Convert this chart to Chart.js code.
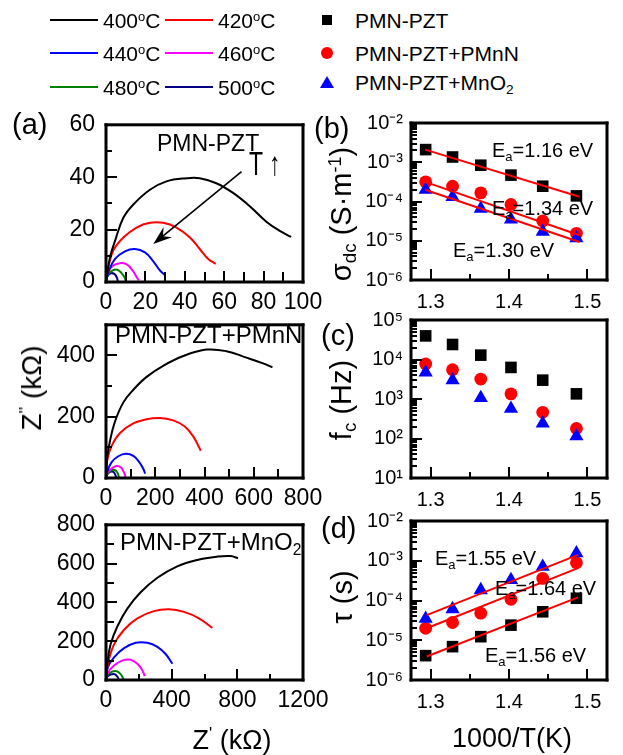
<!DOCTYPE html>
<html>
<head>
<meta charset="utf-8">
<title>Impedance spectra and Arrhenius plots</title>
<script src="https://cdn.jsdelivr.net/npm/chart.js@4.4.1/dist/chart.umd.min.js"></script>
<style>
  html, body { margin: 0; background: #fff; }
  #fig { position: relative; width: 623px; height: 755px; overflow: hidden;
         font-family: Arial, 'Liberation Sans', Helvetica, sans-serif; color: #000; }
  #fig canvas { position: absolute; }
  .t { position: absolute; white-space: nowrap; line-height: 1; }
  .t sub { font-size: 65%; vertical-align: -0.3em; line-height: 0; }
  .t sup { font-size: 62%; vertical-align: 0.55em; line-height: 0; }
  .rot { transform: translate(-50%, -50%) rotate(-90deg); }
  .ctr { transform: translate(-50%, -50%); }
  .swatch { position: absolute; height: 2px; width: 48px; }
  .mk { position: absolute; }
</style>
</head>
<body>
<div id="fig">
  <canvas id="a1"></canvas>
  <canvas id="a2"></canvas>
  <canvas id="a3"></canvas>
  <canvas id="b"></canvas>
  <canvas id="c"></canvas>
  <canvas id="d"></canvas>

  <!-- sample legend (markers) -->
  <div class="mk" style="left:322px;top:15px;width:10px;height:10px;background:#000"></div>
  <div class="mk" style="left:321px;top:47px;width:12px;height:12px;border-radius:50%;background:#f00"></div>
  <div class="mk" style="left:320px;top:76px;width:14px;height:12px;background:#00f;clip-path:polygon(50% 0,100% 100%,0 100%)"></div>
  <div class="t" style="left:355px;top:10px;font-size:21px">PMN-PZT</div>
  <div class="t" style="left:355px;top:43px;font-size:21px">PMN-PZT+PMnN</div>
  <div class="t" style="left:355px;top:72px;font-size:21px">PMN-PZT+MnO<sub>2</sub></div>

  <!-- panel labels -->
  <div class="t" style="left:12px;top:110px;font-size:29px">(a)</div>
  <div class="t" style="left:314px;top:114px;font-size:29px">(b)</div>
  <div class="t" style="left:321px;top:321px;font-size:29px">(c)</div>
  <div class="t" style="left:321px;top:514px;font-size:29px">(d)</div>

  <!-- sample names inside (a) -->
  <div class="t" style="left:157px;top:132px;font-size:23px">PMN-PZT</div>
  <div class="t" style="left:249px;top:147px;font-size:23px;transform:scaleY(1.45);transform-origin:0 0">T ↑</div>
  <div class="t" style="left:115px;top:323px;font-size:24px">PMN-PZT+PMnN</div>
  <div class="t" style="left:120px;top:530px;font-size:24px">PMN-PZT+MnO<sub>2</sub></div>

  <!-- activation energies -->
  <div class="t" style="left:492px;top:140px;font-size:20px">E<sub>a</sub>=1.16 eV</div>
  <div class="t" style="left:492px;top:198px;font-size:20px">E<sub>a</sub>=1.34 eV</div>
  <div class="t" style="left:453px;top:240px;font-size:20px">E<sub>a</sub>=1.30 eV</div>
  <div class="t" style="left:435px;top:548px;font-size:20px">E<sub>a</sub>=1.55 eV</div>
  <div class="t" style="left:495px;top:578px;font-size:20px">E<sub>a</sub>=1.64 eV</div>
  <div class="t" style="left:485px;top:645px;font-size:20px">E<sub>a</sub>=1.56 eV</div>

  <!-- axis titles -->
  <div class="t rot" style="left:32px;top:388px;font-size:28px">Z<sup>''</sup> (kΩ)</div>
  <div class="t rot" style="left:341px;top:214px;font-size:29px">σ<sub>dc</sub> (S·m<sup>-1</sup>)</div>
  <div class="t rot" style="left:341px;top:400px;font-size:29px">f<sub>c</sub> (Hz)</div>
  <div class="t rot" style="left:342px;top:597px;font-size:29px">τ (s)</div>
  <div class="t ctr" style="left:232px;top:740px;font-size:27px">Z<sup>'</sup> (kΩ)</div>
  <div class="t ctr" style="left:512px;top:738px;font-size:27px">1000/T(K)</div>
</div>

<script>
// ─── Data ─────────────────────────────────────────────────────────

const temps = ['400', '420', '440', '460', '480', '500'];
const tempColors = ['#000000', '#ff0000', '#0000ff', '#ff00ff', '#008000', '#000080'];

// Nyquist arcs from panel (a), [Z', Z''] in kΩ, one list per temperature (400 → 500 °C)
const nyqPZT = [
  [[0,0],[2,9.4],[4.6,15.7],[8.8,24.5],[13.9,29.6],[22.3,35.2],[30.7,38.4],[40.9,39.6],[47.6,39.6],[56,37.7],[64.5,34],[73,28.9],[81.4,23],[88.2,19.5],[94,17.2]],
  [[0,0],[1.2,5.7],[3.7,12],[8.8,17],[15.5,20.8],[22.3,22.6],[29,22.6],[35.8,20.8],[42.6,17],[47.6,12.6],[51.9,8.8],[55.7,6.9]],
  [[0,0],[1.2,3.8],[4.6,8.8],[9.6,11.7],[14.7,12.6],[19.8,11.3],[24,7.9],[27.4,4.4],[30.2,2.5]],
  [[0,0],[1,3.8],[3.7,6.3],[7.1,7.2],[10.5,6.7],[13.5,4.4],[15.5,1.9],[16.7,0.6]],
  [[0,0],[1,2.8],[3.4,4.4],[5.7,4.7],[7.9,3.4],[9.5,1.6],[10.1,0]],
  [[0,0],[0.7,2.1],[2.4,3.3],[4.2,3.1],[5.4,1.9],[6.1,0]],
];
const nyqPMnN = [
  [[0,0],[5,68],[16,120],[36,183],[70,246],[111,288],[165,330],[232,366],[314,398],[408,419],[489,414],[570,393],[638,374],[676,361]],
  [[0,0],[5,58],[23,105],[57,147],[111,178],[165,192],[219,196],[273,188],[320,168],[354,136],[385,89]],
  [[0,0],[5,21],[23,52],[50,71],[81,79],[111,72],[135,52],[151,31],[159,14]],
  [[0,0],[7,18],[23,31],[43,39],[61,34],[73,18],[80,3]],
  [[0,0],[5,13],[20,24],[36,26],[47,16],[53,2]],
  [[0,0],[4,10],[16,20],[30,20],[38,10],[41,2]],
];
const nyqMnO2 = [
  [[0,0],[8,84],[28,184],[69,276],[130,368],[211,452],[313,527],[434,586],[556,619],[678,636],[759,639],[804,628]],
  [[0,0],[12,84],[49,184],[110,259],[191,318],[292,355],[384,365],[475,351],[566,318],[648,268]],
  [[0,0],[12,67],[49,117],[110,164],[181,192],[252,192],[313,171],[363,134],[404,84]],
  [[0,0],[12,38],[49,75],[99,100],[150,104],[191,84],[221,50],[236,20]],
  [[0,0],[8,25],[35,42],[65,45],[89,30],[104,8],[106,0]],
  [[0,0],[8,17],[28,28],[53,30],[69,17],[79,0]],
];
const arrowTail = [68.8, 42.1];
const arrowTip = [24, 14.5];

// Arrhenius data against 1000/T (K⁻¹)
const invT = [1.2937, 1.328, 1.364, 1.4025, 1.443, 1.486];
const sigmaPZT  = [2.1e-3, 1.36e-3, 8.4e-4, 4.7e-4, 2.45e-4, 1.39e-4];
const sigmaPMnN = [3.16e-4, 2.45e-4, 1.66e-4, 8.4e-5, 3.2e-5, 1.55e-5];
const sigmaMnO2 = [2.0e-4, 1.31e-4, 6.6e-5, 3.5e-5, 1.7e-5, 1.17e-5];
const fcPZT  = [3.96e4, 2.4e4, 1.29e4, 6.3e3, 3.0e3, 1.35e3];
const fcPMnN = [7.7e3, 5.5e3, 3.2e3, 1.35e3, 4.6e2, 1.8e2];
const fcMnO2 = [4.7e3, 3.0e3, 1.07e3, 5.7e2, 2.4e2, 1.15e2];
const tauPZT  = [4.1e-6, 6.9e-6, 1.23e-5, 2.4e-5, 5.2e-5, 1.14e-4];
const tauPMnN = [2.0e-5, 2.8e-5, 4.8e-5, 1.07e-4, 3.6e-4, 8.9e-4];
const tauMnO2 = [3.5e-5, 6.1e-5, 1.83e-4, 3.3e-4, 7.1e-4, 1.55e-3];

// Linear fits (end points)
const sigmaFitX = [1.293, 1.49];
const sigmaFitPZT  = [2.1e-3, 1.32e-4];
const sigmaFitPMnN = [3.16e-4, 1.38e-5];
const sigmaFitMnO2 = [2.0e-4, 9.3e-6];
const tauFitX = [1.295, 1.488];
const tauFitMnO2 = [4.3e-5, 1.4e-3];
const tauFitPMnN = [2.0e-5, 6.5e-4];
const tauFitPZT  = [3.9e-6, 1.2e-4];

// Tick values
const invTTicks = [1.3, 1.4, 1.5];
const invTMinor = [1.35, 1.45];

// ─── Helpers ──────────────────────────────────────────────────────

const FONT = "Arial, 'Liberation Sans', Helvetica, sans-serif";

const range = (a, b, s) => { const r = []; for (let v = a; v <= b + 1e-9; v += s) r.push(v); return r; };
const decades = (lo, hi) => range(lo, hi, 1).map((e) => Math.pow(10, e));
const logMinor = (lo, hi) => {
  const r = [];
  for (let e = lo; e < hi; e++) for (let m = 2; m <= 9; m++) r.push(m * Math.pow(10, e));
  return r;
};
const SUP = { '-': '⁻', 0: '⁰', 1: '¹', 2: '²', 3: '³', 4: '⁴', 5: '⁵', 6: '⁶', 7: '⁷', 8: '⁸', 9: '⁹' };
const pow10Label = (v) => '10' + String(Math.round(Math.log10(v))).split('').map((c) => SUP[c]).join('');

const pts = (list) => list.map(([x, y]) => ({ x, y }));
const zip = (xs, ys) => xs.map((x, i) => ({ x, y: ys[i] }));

// One plugin per chart: inward tick marks, box frame and (optionally) the T arrow
function decorPlugin(xs, ys, arrow) {
  return {
    id: 'decor',
    afterDatasetsDraw(chart) {
      const ctx = chart.ctx;
      const a = chart.chartArea;
      const sx = chart.scales.x, sy = chart.scales.y;
      ctx.save();
      ctx.fillStyle = '#000';

      // tick marks as small filled bars
      const xTick = (v, len) => {
        const p = Math.round(sx.getPixelForValue(v));
        ctx.fillRect(p - 1, a.bottom - len, 2, len);
      };
      const yTick = (v, len) => {
        const p = Math.round(sy.getPixelForValue(v));
        ctx.fillRect(a.left, p - 1, len, 2);
      };
      xs.minor.forEach((v) => xTick(v, xs.minorLen || 6));
      ys.minor.forEach((v) => yTick(v, ys.minorLen || 6));
      xs.major.forEach((v) => xTick(v, 11));
      ys.major.forEach((v) => yTick(v, 11));

      // frame
      const w = 3;
      ctx.fillRect(a.left - 1.5, a.top - 1.5, a.right - a.left + w, w);
      ctx.fillRect(a.left - 1.5, a.bottom - 1.5, a.right - a.left + w, w);
      ctx.fillRect(a.left - 1.5, a.top - 1.5, w, a.bottom - a.top + w);
      ctx.fillRect(a.right - 1.5, a.top - 1.5, w, a.bottom - a.top + w);

      if (arrow) {
        const [from, to] = arrow;
        const x1 = sx.getPixelForValue(from[0]), y1 = sy.getPixelForValue(from[1]);
        const x2 = sx.getPixelForValue(to[0]), y2 = sy.getPixelForValue(to[1]);
        const ang = Math.atan2(y2 - y1, x2 - x1);
        const L = 20, W = 0.34;
        ctx.strokeStyle = '#000';
        ctx.lineWidth = 1.6;
        ctx.beginPath();
        ctx.moveTo(x1, y1);
        ctx.lineTo(x2 - 10 * Math.cos(ang), y2 - 10 * Math.sin(ang));
        ctx.stroke();
        ctx.beginPath();
        ctx.moveTo(x2, y2);
        ctx.lineTo(x2 - L * Math.cos(ang - W), y2 - L * Math.sin(ang - W));
        ctx.lineTo(x2 - 0.62 * L * Math.cos(ang), y2 - 0.62 * L * Math.sin(ang));
        ctx.lineTo(x2 - L * Math.cos(ang + W), y2 - L * Math.sin(ang + W));
        ctx.closePath();
        ctx.fill();
      }
      ctx.restore();
    },
  };
}

// ─── Chart builder ────────────────────────────────────────────────

function buildChart(id, pos, box, datasets, xs, ys, fontSize, arrow = null) {
  const canvas = document.getElementById(id);
  canvas.style.left = pos.left + 'px';
  canvas.style.top = pos.top + 'px';
  canvas.width = pos.w;
  canvas.height = pos.h;
  const yW = box.l - pos.left;
  const xH = pos.top + pos.h - box.b;
  const font = { family: FONT, size: fontSize };

  return new Chart(canvas, {
    type: 'scatter',
    data: { datasets },
    options: {
      responsive: false,
      animation: false,
      events: [],
      layout: { padding: { top: box.t - pos.top, right: pos.left + pos.w - box.r, left: 0, bottom: 0 } },
      plugins: { legend: { display: false }, tooltip: { enabled: false } },
      scales: {
        x: {
          type: 'linear',
          min: xs.min, max: xs.max,
          afterBuildTicks: (s) => { s.ticks = xs.major.map((v) => ({ value: v })); },
          afterFit: (s) => { s.height = xH; },
          grid: { display: false, drawTicks: false },
          border: { display: false },
          ticks: { font, color: '#000', padding: xs.pad, maxRotation: 0, autoSkip: false, callback: xs.fmt },
        },
        y: {
          type: ys.type || 'linear',
          min: ys.min, max: ys.max,
          afterBuildTicks: (s) => { s.ticks = ys.major.map((v) => ({ value: v })); },
          afterFit: (s) => { s.width = yW; },
          grid: { display: false, drawTicks: false },
          border: { display: false },
          ticks: { font, color: '#000', padding: ys.pad, autoSkip: false, callback: ys.fmt },
        },
      },
    },
    plugins: [decorPlugin(xs, ys, arrow)],
  });
}

function nyquistSets(curves) {
  return curves.map((c, i) => ({
    label: temps[i] + '°C',
    data: pts(c),
    showLine: true,
    borderColor: tempColors[i],
    borderWidth: 2,
    pointRadius: 0,
    tension: 0.4,
    fill: false,
  }));
}

function markerSets(a, b, c) {
  return [
    { label: 'PMN-PZT', data: zip(invT, a), pointStyle: 'rect', pointRadius: 8.2, backgroundColor: '#000', borderWidth: 0, order: 4 },
    { label: 'PMN-PZT+PMnN', data: zip(invT, b), pointStyle: 'circle', pointRadius: 6.4, backgroundColor: '#ff0000', borderWidth: 0, order: 3 },
    { label: 'PMN-PZT+MnO2', data: zip(invT, c), pointStyle: 'triangle', pointRadius: 8.2, backgroundColor: '#0000ff', borderWidth: 0, order: 2 },
  ];
}

function fitSet(xs, ys) {
  return { data: zip(xs, ys), showLine: true, borderColor: '#ff0000', borderWidth: 2, pointRadius: 0, order: 1 };
}

const num = (v) => String(v);
const fix1 = (v) => v.toFixed(1);

// ─── Panel (a): Nyquist plots ─────────────────────────────────────

buildChart('a1', { left: 40, top: 100, w: 300, h: 220 }, { l: 106, t: 122, r: 303, b: 282 },
  nyquistSets(nyqPZT),
  { min: 0, max: 100, major: range(0, 100, 20), minor: range(0, 100, 10), minorLen: 10, pad: 7, fmt: num },
  { min: 0, max: 60, major: range(0, 60, 20), minor: range(0, 60, 10), pad: 11, fmt: num },
  23, [arrowTail, arrowTip]);

buildChart('a2', { left: 40, top: 300, w: 300, h: 220 }, { l: 106, t: 319, r: 303, b: 478 },
  nyquistSets(nyqPMnN),
  { min: 0, max: 800, major: range(0, 800, 200), minor: range(0, 800, 100), minorLen: 9, pad: 7, fmt: num },
  { min: 0, max: 500, major: range(0, 400, 200), minor: range(0, 500, 100), pad: 11, fmt: num },
  23);

buildChart('a3', { left: 40, top: 500, w: 300, h: 220 }, { l: 106, t: 521, r: 303, b: 680 },
  nyquistSets(nyqMnO2),
  { min: 0, max: 1200, major: range(0, 1200, 400), minor: range(0, 1200, 200), pad: 7, fmt: num },
  { min: 0, max: 800, major: range(0, 800, 200), minor: range(0, 800, 100), minorLen: 8, pad: 11, fmt: num },
  23);

// ─── Panels (b)–(d): Arrhenius plots ──────────────────────────────

const invTAxis = { min: 1.275, max: 1.525, major: invTTicks, minor: invTMinor, pad: 10, fmt: fix1 };

buildChart('b', { left: 350, top: 100, w: 273, h: 220 }, { l: 411, t: 123, r: 607, b: 280 },
  [fitSet(sigmaFitX, sigmaFitPZT), fitSet(sigmaFitX, sigmaFitPMnN), fitSet(sigmaFitX, sigmaFitMnO2),
    ...markerSets(sigmaPZT, sigmaPMnN, sigmaMnO2)],
  invTAxis,
  { type: 'logarithmic', min: 1e-6, max: 1e-2, major: decades(-6, -2), minor: logMinor(-6, -2), pad: 8, fmt: pow10Label },
  20);

buildChart('c', { left: 350, top: 300, w: 273, h: 220 }, { l: 411, t: 319, r: 607, b: 478 },
  markerSets(fcPZT, fcPMnN, fcMnO2),
  invTAxis,
  { type: 'logarithmic', min: 1e1, max: 1e5, major: decades(1, 5), minor: logMinor(1, 5), pad: 8, fmt: pow10Label },
  20);

buildChart('d', { left: 350, top: 500, w: 273, h: 220 }, { l: 411, t: 521, r: 607, b: 680 },
  [fitSet(tauFitX, tauFitMnO2), fitSet(tauFitX, tauFitPMnN), fitSet(tauFitX, tauFitPZT),
    ...markerSets(tauPZT, tauPMnN, tauMnO2)],
  invTAxis,
  { type: 'logarithmic', min: 1e-6, max: 1e-2, major: decades(-6, -2), minor: logMinor(-6, -2), pad: 8, fmt: pow10Label },
  20);

// ─── Temperature legend ───────────────────────────────────────────

const fig = document.getElementById('fig');
const legCols = [50, 165];
const legRows = [20, 53, 87];
temps.forEach((t, i) => {
  const x = legCols[i % 2], y = legRows[Math.floor(i / 2)];
  const sw = document.createElement('div');
  sw.className = 'swatch';
  sw.style.cssText = `left:${x}px;top:${y - 1}px;background:${tempColors[i]}`;
  const tx = document.createElement('div');
  tx.className = 't';
  tx.style.cssText = `left:${x + 53}px;top:${y - 10}px;font-size:21px`;
  tx.innerHTML = `${t}<sup>o</sup>C`;
  fig.append(sw, tx);
});
</script>
</body>
</html>
